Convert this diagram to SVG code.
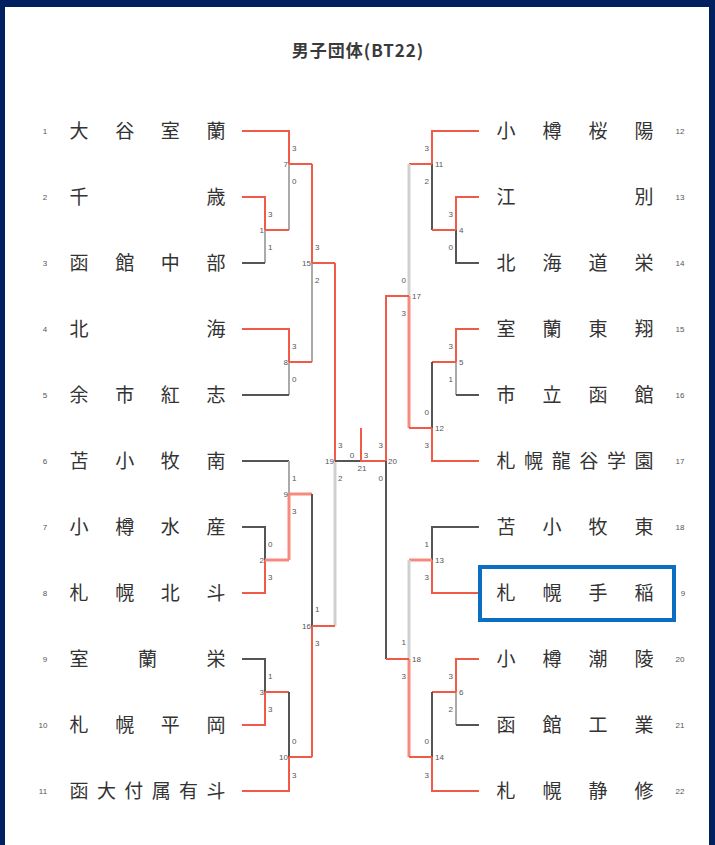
<svg xmlns="http://www.w3.org/2000/svg" width="715" height="845" viewBox="0 0 715 845">
<style>
.nm{font-family:"Noto Sans CJK JP","Noto Sans",sans-serif;font-size:19px;fill:#333;text-anchor:middle}
.sd{font-family:"Liberation Sans",Arial,sans-serif;font-size:8px;fill:#555;text-anchor:middle}
.sc{font-family:"Liberation Sans",Arial,sans-serif;font-size:8px;fill:#555}
.ls{text-anchor:start}
.le{text-anchor:end}
.lm{text-anchor:middle}
.r{stroke:#f05a46;stroke-width:2;fill:none}
.lr{stroke:#f68b7d;stroke-width:3;fill:none}
.d{stroke:#555;stroke-width:2;fill:none}
.g{stroke:#aaa;stroke-width:2;fill:none}
.lg{stroke:#d0d0d0;stroke-width:3;fill:none}
.title{font-family:"Noto Sans CJK JP","Noto Sans",sans-serif;font-size:17px;font-weight:700;fill:#3a3a3a;text-anchor:middle;letter-spacing:1px}
</style>
<rect x="0" y="0" width="715" height="845" fill="#002060"/>
<rect x="5" y="7" width="704" height="838" fill="#ffffff"/>
<text class="title" x="358" y="57">男子団体(BT22)</text>

<g id="connectors">
<path class="r" d="M242 131H289V164"/><path class="g" d="M289 164V230"/>
<path class="r" d="M289 164H312"/>
<path class="r" d="M242 197H265V230"/><path class="g" d="M265 230V263"/>
<path class="r" d="M265 230H289"/>
<path class="d" d="M242 263H265"/>
<path class="r" d="M312 164V263"/><path class="g" d="M312 263V362"/>
<path class="r" d="M312 263H335"/>
<path class="r" d="M242 329H289V362"/><path class="g" d="M289 362V395"/>
<path class="r" d="M289 362H312"/>
<path class="d" d="M242 395H289"/>
<path class="r" d="M335 263V461"/><path class="lg" d="M335 461V626"/>
<path class="d" d="M335 461H361"/>
<path class="r" d="M361 428V461H386"/>
<path class="d" d="M242 461H289"/><path class="g" d="M289 461V494"/>
<path class="lr" d="M289 494V560"/><path class="lr" d="M289 494H312"/>
<path class="d" d="M242 527H265V560"/><path class="r" d="M265 560V593H242"/>
<path class="lr" d="M265 560H289"/>
<path class="d" d="M312 494V626"/><path class="r" d="M312 626V757"/>
<path class="r" d="M312 626H335"/>
<path class="d" d="M242 659H265V692"/><path class="r" d="M265 692V725H242"/>
<path class="r" d="M265 692H289"/>
<path class="d" d="M289 692V757"/><path class="r" d="M289 757V791H242"/>
<path class="r" d="M289 757H312"/>
<path class="r" d="M479 131H432V164"/><path class="d" d="M432 164V230"/>
<path class="r" d="M432 164H409"/>
<path class="r" d="M479 197H456V230"/><path class="d" d="M456 230V263H479"/>
<path class="r" d="M456 230H432"/>
<path class="lg" d="M409 164V296"/><path class="lr" d="M409 296V428"/>
<path class="r" d="M409 296H386V461"/><path class="d" d="M386 461V659"/>
<path class="r" d="M479 329H456V362"/><path class="g" d="M456 362V395"/>
<path class="d" d="M456 395H479"/>
<path class="r" d="M456 362H432"/>
<path class="d" d="M432 362V428"/><path class="r" d="M432 428V461H479"/>
<path class="r" d="M432 428H409"/>
<path class="d" d="M479 527H432V560"/><path class="r" d="M432 560V593H479"/>
<path class="lr" d="M432 560H409"/>
<path class="lg" d="M409 560V659"/><path class="lr" d="M409 659V757"/>
<path class="r" d="M409 659H386"/>
<path class="r" d="M479 659H456V692"/><path class="g" d="M456 692V725"/>
<path class="d" d="M456 725H479"/>
<path class="r" d="M456 692H432"/>
<path class="d" d="M432 692V757"/><path class="r" d="M432 757V791H479"/>
<path class="r" d="M432 757H409"/>
</g>

<g id="scores">
<text class="sc ls" x="292" y="151">3</text><text class="sc le" x="288" y="167">7</text><text class="sc ls" x="292" y="184">0</text>
<text class="sc ls" x="268" y="217">3</text><text class="sc le" x="264" y="233">1</text><text class="sc ls" x="268" y="250">1</text>
<text class="sc ls" x="315" y="250">3</text><text class="sc le" x="311" y="266">15</text><text class="sc ls" x="315" y="283">2</text>
<text class="sc ls" x="292" y="349">3</text><text class="sc le" x="288" y="365">8</text><text class="sc ls" x="292" y="382">0</text>
<text class="sc ls" x="338" y="448">3</text><text class="sc le" x="334" y="464">19</text><text class="sc ls" x="338" y="481">2</text>
<text class="sc ls" x="292" y="481">1</text><text class="sc le" x="288" y="497">9</text><text class="sc ls" x="292" y="514">3</text>
<text class="sc ls" x="268" y="547">0</text><text class="sc le" x="264" y="563">2</text><text class="sc ls" x="268" y="580">3</text>
<text class="sc ls" x="315" y="612">1</text><text class="sc le" x="311" y="629">16</text><text class="sc ls" x="315" y="646">3</text>
<text class="sc ls" x="268" y="679">1</text><text class="sc le" x="264" y="695">3</text><text class="sc ls" x="268" y="712">3</text>
<text class="sc ls" x="292" y="744">0</text><text class="sc le" x="288" y="760">10</text><text class="sc ls" x="292" y="778">3</text>
<text class="sc lm" x="352" y="458">0</text><text class="sc lm" x="366" y="458">3</text><text class="sc lm" x="362" y="471">21</text>
<text class="sc le" x="383" y="448">3</text><text class="sc ls" x="388" y="464">20</text><text class="sc le" x="383" y="481">0</text>
<text class="sc le" x="429" y="151">3</text><text class="sc ls" x="435" y="167">11</text><text class="sc le" x="429" y="184">2</text>
<text class="sc le" x="453" y="217">3</text><text class="sc ls" x="459" y="233">4</text><text class="sc le" x="453" y="250">0</text>
<text class="sc le" x="406" y="283">0</text><text class="sc ls" x="412" y="299">17</text><text class="sc le" x="406" y="316">3</text>
<text class="sc le" x="453" y="349">3</text><text class="sc ls" x="459" y="365">5</text><text class="sc le" x="453" y="382">1</text>
<text class="sc le" x="429" y="415">0</text><text class="sc ls" x="435" y="431">12</text><text class="sc le" x="429" y="448">3</text>
<text class="sc le" x="429" y="547">1</text><text class="sc ls" x="435" y="563">13</text><text class="sc le" x="429" y="580">3</text>
<text class="sc le" x="406" y="645">1</text><text class="sc ls" x="412" y="662">18</text><text class="sc le" x="406" y="679">3</text>
<text class="sc le" x="453" y="679">3</text><text class="sc ls" x="459" y="695">6</text><text class="sc le" x="453" y="712">2</text>
<text class="sc le" x="429" y="744">0</text><text class="sc ls" x="435" y="760">14</text><text class="sc le" x="429" y="778">3</text>
</g>

<g id="team-1"><text class="sd" x="45" y="134">1</text><text class="nm" x="79 124.7 170.3 216" y="138">大谷室蘭</text></g>
<g id="team-2"><text class="sd" x="45" y="200">2</text><text class="nm" x="79 216" y="204">千歳</text></g>
<g id="team-3"><text class="sd" x="45" y="266">3</text><text class="nm" x="79 124.7 170.3 216" y="270">函館中部</text></g>
<g id="team-4"><text class="sd" x="45" y="332">4</text><text class="nm" x="79 216" y="336">北海</text></g>
<g id="team-5"><text class="sd" x="45" y="398">5</text><text class="nm" x="79 124.7 170.3 216" y="402">余市紅志</text></g>
<g id="team-6"><text class="sd" x="45" y="464">6</text><text class="nm" x="79 124.7 170.3 216" y="468">苫小牧南</text></g>
<g id="team-7"><text class="sd" x="45" y="530">7</text><text class="nm" x="79 124.7 170.3 216" y="534">小樽水産</text></g>
<g id="team-8"><text class="sd" x="45" y="596">8</text><text class="nm" x="79 124.7 170.3 216" y="600">札幌北斗</text></g>
<g id="team-9"><text class="sd" x="45" y="662">9</text><text class="nm" x="79 147.5 216" y="666">室蘭栄</text></g>
<g id="team-10"><text class="sd" x="43" y="728">10</text><text class="nm" x="79 124.7 170.3 216" y="732">札幌平岡</text></g>
<g id="team-11"><text class="sd" x="43" y="794">11</text><text class="nm" x="79 106.4 133.8 161.2 188.6 216" y="798">函大付属有斗</text></g>

<g id="team-12"><text class="nm" x="506 552 598 644" y="138">小樽桜陽</text><text class="sd" x="680" y="134">12</text></g>
<g id="team-13"><text class="nm" x="506 644" y="204">江別</text><text class="sd" x="680" y="200">13</text></g>
<g id="team-14"><text class="nm" x="506 552 598 644" y="270">北海道栄</text><text class="sd" x="680" y="266">14</text></g>
<g id="team-15"><text class="nm" x="506 552 598 644" y="336">室蘭東翔</text><text class="sd" x="680" y="332">15</text></g>
<g id="team-16"><text class="nm" x="506 552 598 644" y="402">市立函館</text><text class="sd" x="680" y="398">16</text></g>
<g id="team-17"><text class="nm" x="506 533.6 561.2 588.8 616.4 644" y="468">札幌龍谷学園</text><text class="sd" x="680" y="464">17</text></g>
<g id="team-18"><text class="nm" x="506 552 598 644" y="534">苫小牧東</text><text class="sd" x="680" y="530">18</text></g>
<g id="team-19"><text class="nm" x="506 552 598 644" y="600">札幌手稲</text><text class="sd" x="683" y="596">9</text><rect x="480" y="567" width="194" height="53" fill="none" stroke="#0a6fc2" stroke-width="4"/></g>
<g id="team-20"><text class="nm" x="506 552 598 644" y="666">小樽潮陵</text><text class="sd" x="680" y="662">20</text></g>
<g id="team-21"><text class="nm" x="506 552 598 644" y="732">函館工業</text><text class="sd" x="680" y="728">21</text></g>
<g id="team-22"><text class="nm" x="506 552 598 644" y="798">札幌静修</text><text class="sd" x="680" y="794">22</text></g>
</svg>
